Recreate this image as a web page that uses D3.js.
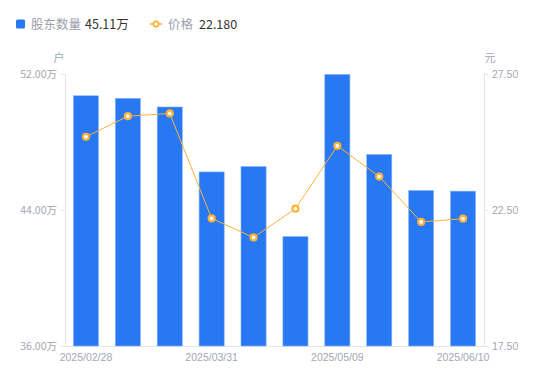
<!DOCTYPE html>
<html>
<head>
<meta charset="utf-8">
<script src="https://cdn.jsdelivr.net/npm/d3@7"></script>
<style>
  body { margin: 0; background: #fff; }
  text { font-family: "Noto Sans CJK SC", "Noto Sans", sans-serif; }
</style>
</head>
<body>
<div id="chart"></div>
<script>
// 股东数量 (万户) and 价格 (元) per report date
const dates = ['2025/02/28', '2025/03/10', '2025/03/20', '2025/03/31', '2025/04/10',
  '2025/04/30', '2025/05/09', '2025/05/20', '2025/05/30', '2025/06/10'];
const holders = [50.72, 50.57, 50.06, 46.24, 46.56, 42.44, 51.98, 47.27, 45.15, 45.11];
const prices = [25.19, 25.95, 26.05, 22.19, 21.49, 22.55, 24.86, 23.73, 22.06, 22.18];
const leftTicks = [36, 44, 52];
const rightTicks = [17.5, 22.5, 27.5];
const shownDates = ['2025/02/28', '2025/03/31', '2025/05/09', '2025/06/10'];

const W = 550, H = 381;
const margin = { top: 74, right: 66, bottom: 35, left: 65 };
const innerW = W - margin.left - margin.right;
const innerH = H - margin.top - margin.bottom;

const blue = '#2878F4', orange = '#FBB23A', grey = '#A3A7B3', axisCol = '#E3E5EA';

const svg = d3.select('#chart').append('svg')
  .attr('width', W)
  .attr('height', H);

const x = d3.scaleBand().domain(dates).range([0, innerW]).paddingInner(0.4).paddingOuter(0.2);
const yL = d3.scaleLinear().domain([36, 52]).range([innerH, 0]);
const yR = d3.scaleLinear().domain([17.5, 27.5]).range([innerH, 0]);

const g = svg.append('g').attr('transform', `translate(${margin.left},${margin.top})`);

// left axis
const axL = g.append('g')
  .call(d3.axisLeft(yL).tickValues(leftTicks).tickSize(4).tickPadding(4)
    .tickFormat(d => d3.format('.2f')(d) + '万'));
// right axis
const axR = g.append('g')
  .attr('transform', `translate(${innerW},0)`)
  .call(d3.axisRight(yR).tickValues(rightTicks).tickSize(4).tickPadding(4)
    .tickFormat(d3.format('.2f')));
// bottom axis
const axB = g.append('g')
  .attr('transform', `translate(0,${innerH})`)
  .call(d3.axisBottom(x).tickValues(shownDates).tickSize(0).tickPadding(8));

[axL, axR, axB].forEach(a => {
  a.select('.domain').attr('stroke', axisCol);
  a.selectAll('.tick line').attr('stroke', axisCol);
  a.selectAll('text').attr('fill', grey).style('font-size', '10.5px')
    .style('font-family', '"Liberation Sans", Arial, sans-serif');
});
axL.selectAll('.tick text').style('font-family', '"Noto Sans CJK SC", sans-serif');

// units
g.append('text').attr('x', -6).attr('y', -12).attr('text-anchor', 'middle')
  .attr('fill', grey).style('font-size', '11px').text('户');
g.append('text').attr('x', innerW + 6).attr('y', -12).attr('text-anchor', 'middle')
  .attr('fill', grey).style('font-size', '11px').text('元');

// bars
g.selectAll('.bar')
  .data(holders)
  .join('rect')
  .attr('class', 'bar')
  .attr('x', (d, i) => x(dates[i]))
  .attr('y', d => yL(d))
  .attr('width', x.bandwidth())
  .attr('height', d => innerH - yL(d))
  .attr('fill', blue)
  .attr('stroke', '#8DB6F8')
  .attr('stroke-width', 0.6);

// price line
const line = d3.line()
  .x((d, i) => x(dates[i]) + x.bandwidth() / 2)
  .y(d => yR(d));

g.append('path')
  .datum(prices)
  .attr('fill', 'none')
  .attr('stroke', orange)
  .attr('stroke-width', 1)
  .attr('d', line);

g.selectAll('.pt')
  .data(prices)
  .join('circle')
  .attr('class', 'pt')
  .attr('cx', (d, i) => x(dates[i]) + x.bandwidth() / 2)
  .attr('cy', d => yR(d))
  .attr('r', 3)
  .attr('fill', '#fff')
  .attr('stroke', orange)
  .attr('stroke-width', 2.2);

// legend
const lg = svg.append('g').attr('transform', 'translate(16,24)');
lg.append('rect').attr('x', 0).attr('y', -4.5).attr('width', 9).attr('height', 9)
  .attr('rx', 1.5).attr('fill', blue);
lg.append('text').attr('x', 15).attr('y', 4.5).attr('fill', '#9A9EA9')
  .style('font-size', '12.5px').text('股东数量');
lg.append('text').attr('x', 69).attr('y', 4.5).attr('fill', '#333')
  .style('font-size', '12.5px').text(d3.format('.2f')(holders[holders.length - 1]) + '万');

lg.append('line').attr('x1', 134).attr('x2', 146).attr('y1', 0).attr('y2', 0)
  .attr('stroke', orange).attr('stroke-width', 1.5);
lg.append('circle').attr('cx', 140).attr('cy', 0).attr('r', 2.6)
  .attr('fill', '#fff').attr('stroke', orange).attr('stroke-width', 1.8);
lg.append('text').attr('x', 152).attr('y', 4.5).attr('fill', '#9A9EA9')
  .style('font-size', '12.5px').text('价格');
lg.append('text').attr('x', 183).attr('y', 4.5).attr('fill', '#333')
  .style('font-size', '12.5px').text(d3.format('.3f')(prices[prices.length - 1]));
</script>
</body>
</html>
